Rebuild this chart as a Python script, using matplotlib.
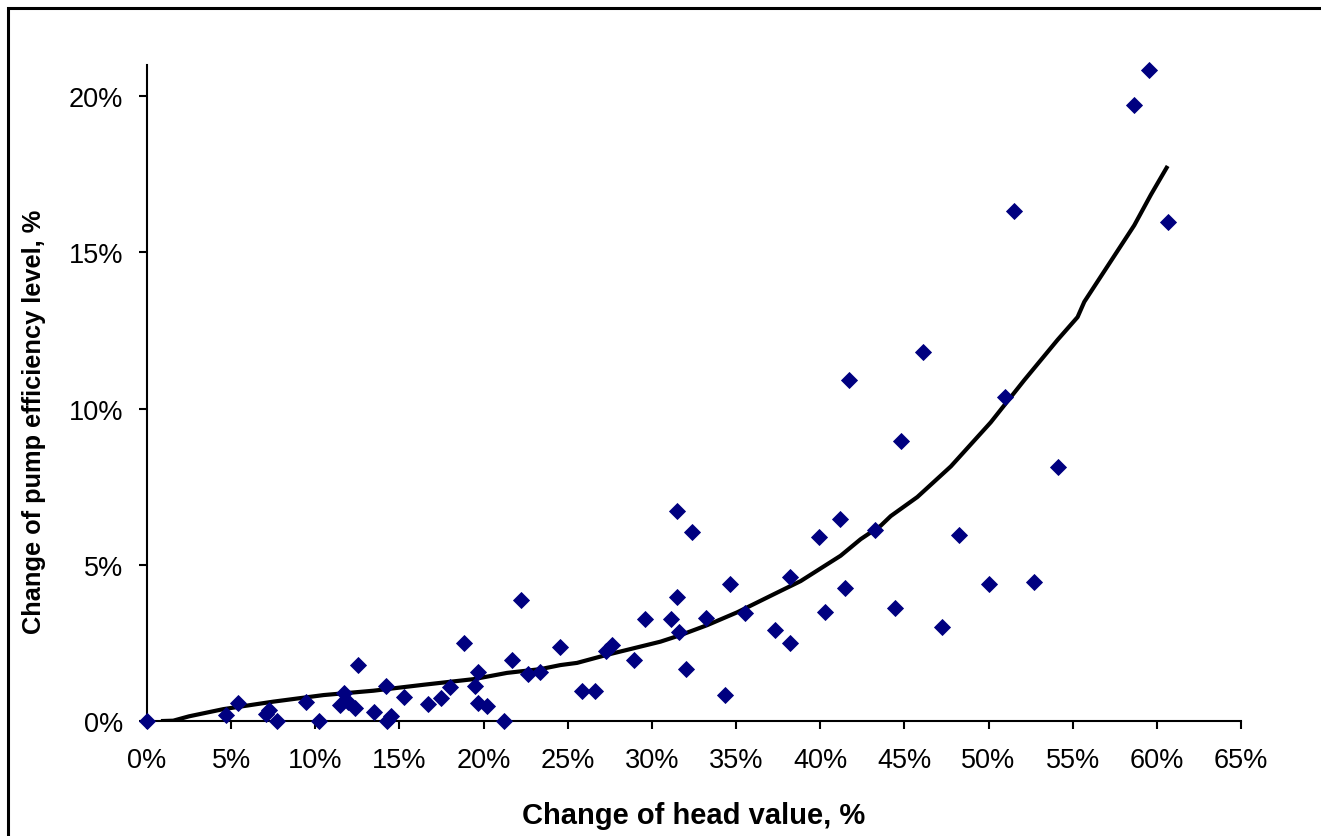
import matplotlib.pyplot as plt
import matplotlib.patches as patches
from matplotlib.ticker import PercentFormatter, MultipleLocator

plt.rcParams['font.family'] = ['Liberation Sans', 'DejaVu Sans']

# measured points: change of head value (%) vs change of pump efficiency (%)
head_change = [0, 4.68, 5.43, 7.08, 7.27, 7.71, 9.44, 10.23, 11.48, 11.71,
               11.97, 12.37, 12.51, 13.46, 14.21, 14.25, 14.49, 15.24, 16.67, 17.47,
               17.98, 18.85, 19.51, 19.64, 19.64, 20.20, 21.19, 21.69, 22.22, 22.62,
               23.37, 24.52, 25.83, 26.60, 27.30, 27.63, 28.94, 29.58, 31.12, 31.50,
               31.50, 31.60, 32.04, 32.41, 33.20, 34.36, 34.61, 35.55, 37.33, 38.22,
               38.22, 39.91, 40.28, 41.19, 41.45, 41.71, 43.24, 44.43, 44.80, 46.11,
               47.26, 48.25, 50.00, 50.97, 51.52, 52.69, 54.10, 58.62, 59.53, 60.68]
eff_change = [0, 0.20, 0.57, 0.22, 0.35, 0.01, 0.62, 0.01, 0.51, 0.90,
              0.60, 0.42, 1.80, 0.28, 1.12, 0.01, 0.15, 0.76, 0.55, 0.75,
              1.10, 2.50, 1.12, 1.56, 0.58, 0.48, 0.01, 1.95, 3.88, 1.50,
              1.58, 2.36, 0.97, 0.97, 2.25, 2.44, 1.95, 3.26, 3.26, 6.73,
              3.96, 2.86, 1.66, 6.04, 3.29, 0.83, 4.37, 3.47, 2.92, 4.60,
              2.50, 5.90, 3.48, 6.46, 4.25, 10.91, 6.12, 3.62, 8.95, 11.80,
              3.00, 5.96, 4.38, 10.36, 16.32, 4.46, 8.13, 19.73, 20.83, 15.97]

# trend line
trend_x = [0.95, 1.56, 2.5, 4.54, 7.51, 10.49, 13.46, 16.43, 19.41, 21.39,
           23.37, 24.56, 25.55, 27.34, 30.51, 31.70, 33.29, 35.07, 37.25, 38.84,
           41.21, 42.40, 43.59, 44.19, 45.77, 47.76, 50.13, 52.12, 54.10, 55.29,
           55.69, 58.66, 59.65, 60.58]
trend_y = [0, 0.01, 0.15, 0.38, 0.62, 0.83, 0.97, 1.16, 1.34, 1.54,
           1.66, 1.79, 1.86, 2.12, 2.54, 2.75, 3.07, 3.48, 4.06, 4.48,
           5.29, 5.82, 6.25, 6.56, 7.17, 8.15, 9.56, 10.91, 12.20, 12.93,
           13.42, 15.87, 16.85, 17.71]

W, H = 1321, 837
fig = plt.figure(figsize=(W / 100, H / 100), dpi=100)
ax = fig.add_axes([147 / W, 1 - 722 / H, (1241 - 147) / W, (722 - 66) / H])

# outer frame (right and bottom edges fall outside the picture)
fig.patches.append(patches.Rectangle((8 / W, -0.1), 1.2, 1 - 9 / H + 0.1,
                                     transform=fig.transFigure, fill=False,
                                     edgecolor='black', linewidth=2.2))

ax.plot(trend_x, trend_y, color='black', linewidth=3.0, zorder=2,
        solid_joinstyle='round')
ax.plot(head_change, eff_change, linestyle='none', marker='D', markersize=8.5,
        color='#000080', markeredgecolor='#000080', markeredgewidth=0.6,
        clip_on=False, zorder=3)

ax.set_xlim(0, 65)
ax.set_ylim(0, 21)
ax.xaxis.set_major_locator(MultipleLocator(5))
ax.yaxis.set_major_locator(MultipleLocator(5))
ax.xaxis.set_major_formatter(PercentFormatter(decimals=0))
ax.yaxis.set_major_formatter(PercentFormatter(decimals=0))

for s in ['top', 'right']:
    ax.spines[s].set_visible(False)
for s in ['left', 'bottom']:
    ax.spines[s].set_linewidth(1.5)

ax.tick_params(axis='both', direction='out', length=6, width=1.5,
               labelsize=19.5)
ax.tick_params(axis='x', pad=13)
ax.tick_params(axis='y', pad=11)

ax.set_xlabel('Change of head value, %', fontsize=21, fontweight='bold')
ax.set_ylabel('Change of pump efficiency level, %', fontsize=18.3,
              fontweight='bold')
ax.xaxis.set_label_coords((694 - 147) / (1241 - 147), -(802 - 722) / (722 - 66))
ax.yaxis.set_label_coords(-(147 - 46) / (1241 - 147), (722 - 422) / (722 - 66))

fig.savefig('out.png', dpi=100)
